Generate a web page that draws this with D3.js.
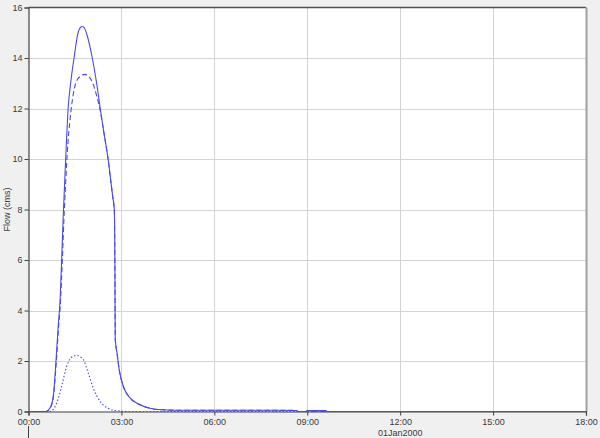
<!DOCTYPE html>
<html><head><meta charset="utf-8">
<script src="https://cdn.jsdelivr.net/npm/d3@7"></script>
<style>
html,body{margin:0;padding:0;background:#f0f0f0;}
svg{display:block;}
text{font-family:"Liberation Sans",Arial,sans-serif;}
</style></head>
<body>
<svg id="c" width="600" height="438"></svg>
<script>
// Time in hours since 00:00 01Jan2000, flow in cms
const totalHours = [0,0.56,0.69,0.8,0.89,0.96,1.02,1.07,1.12,1.2,1.28,1.37,1.47,1.6,1.67,1.74,1.81,1.88,2.06,2.2,2.31,2.44,2.57,2.65,2.72,2.77,2.79,2.8,2.86,2.93,3.06,3.27,3.6,3.92,4.3,5,6,7,8,8.65,8.7,8.95,9.0,9.6,9.65,18];
const totalFlow  = [0,0,0.13,0.6,2.05,3.4,4.4,6.0,7.7,10.0,12.0,13.1,14.0,15.0,15.2,15.25,15.18,14.95,14.0,13.0,12.05,11.0,10.0,9.2,8.5,8.0,5.75,2.9,2.3,1.65,1.0,0.55,0.27,0.13,0.07,0.05,0.05,0.05,0.05,0.04,0,0,0.04,0.04,0,0];
const dashHours = [0,0.56,0.69,0.8,0.9,0.97,1.03,1.09,1.14,1.2,1.27,1.34,1.45,1.61,1.82,2.04,2.2,2.31,2.44,2.57,2.65,2.72,2.77,2.79,2.8,2.86,2.93,3.06,3.27,3.6,3.92,4.3,5,6,7,8,8.65,8.7,18];
const dashFlow  = [0,0,0.12,0.55,2.0,3.3,4.3,5.9,7.5,9.05,10.6,11.55,12.6,13.2,13.35,13.1,12.5,11.95,11.0,10.0,9.2,8.5,8.0,5.75,2.9,2.3,1.65,1.0,0.55,0.27,0.13,0.07,0.05,0.05,0.05,0.05,0.04,0,0];
const dotHours = [0,0.69,0.91,1.07,1.23,1.39,1.55,1.77,1.93,2.09,2.31,2.57,2.85,3.27,18];
const dotFlow  = [0,0,0.33,1.0,1.78,2.15,2.22,2.05,1.52,0.93,0.4,0.13,0.03,0,0];
const yTicks = [0,2,4,6,8,10,12,14,16];
const xTicks = [0,3,6,9,12,15,18];
const xTickLabels = ["00:00","03:00","06:00","09:00","12:00","15:00","18:00"];
const dateLabel = "01Jan2000";
const yLabel = "Flow (cms)";

const svg = d3.select("#c");
const L=28.5, R=586, T=7.5, B=411.5;
const x = d3.scaleLinear().domain([0,18]).range([L,R]);
const y = d3.scaleLinear().domain([0,16]).range([B,T]);

svg.append("rect").attr("x",L).attr("y",T).attr("width",R-L).attr("height",B-T).attr("fill","#ffffff");

// grid
svg.append("g").selectAll("line").data(yTicks.filter(d=>d>0&&d<16)).join("line")
  .attr("x1",L).attr("x2",R).attr("y1",d=>Math.round(y(d))+0.5).attr("y2",d=>Math.round(y(d))+0.5)
  .attr("stroke","#d3d3d3").attr("stroke-width",1);
svg.append("g").selectAll("line").data(xTicks.filter(d=>d>0&&d<18)).join("line")
  .attr("y1",T).attr("y2",B).attr("x1",d=>Math.round(x(d))+0.5).attr("x2",d=>Math.round(x(d))+0.5)
  .attr("stroke","#d3d3d3").attr("stroke-width",1);

// borders
svg.append("line").attr("x1",L).attr("x2",R).attr("y1",T).attr("y2",T).attr("stroke","#505050").attr("stroke-width",1.5);
svg.append("line").attr("x1",R+0.5).attr("x2",R+0.5).attr("y1",T).attr("y2",B).attr("stroke","#a0a0a0").attr("stroke-width",2);

// axes
const yAxis = d3.axisLeft(y).tickValues(yTicks).tickSize(4).tickPadding(2).tickFormat(d3.format("d"));
const gy = svg.append("g").attr("transform",`translate(${L},0)`).call(yAxis);
const xAxis = d3.axisBottom(x).tickValues(xTicks).tickSize(4).tickPadding(3).tickFormat((d,i)=>xTickLabels[i]);
const gx = svg.append("g").attr("transform",`translate(0,${B})`).call(xAxis);
[gy,gx].forEach(g=>{
  g.select(".domain").attr("stroke","#404040").attr("stroke-width",1.2);
  g.selectAll(".tick line").attr("stroke","#404040");
  g.selectAll(".tick text").attr("fill","#3a3a3a").style("font-size","9px");
});

svg.append("text").attr("x",x(12)).attr("y",436).attr("text-anchor","middle")
  .attr("fill","#3a3a3a").style("font-size","9px").text(dateLabel);
svg.append("line").attr("x1",L).attr("x2",L).attr("y1",426).attr("y2",438).attr("stroke","#404040").attr("stroke-width",1);
svg.append("text").attr("transform",`translate(10,${(T+B)/2}) rotate(-90)`).attr("text-anchor","middle")
  .attr("fill","#3a3a3a").style("font-size","9px").text(yLabel);

// lines
const line = d3.line().x(d=>x(d[0])).y(d=>y(d[1])).curve(d3.curveMonotoneX);
const col = "#4a4ae0";
svg.append("clipPath").attr("id","pc").append("rect").attr("x",L).attr("y",T-2).attr("width",R-L).attr("height",B-T+3);
svg.append("path").datum(dotHours.map((h,i)=>[h,dotFlow[i]])).attr("d",line)
  .attr("fill","none").attr("stroke",col).attr("stroke-width",1.1).attr("stroke-dasharray","1.5,2").attr("clip-path","url(#pc)");
svg.append("path").datum(dashHours.map((h,i)=>[h,dashFlow[i]])).attr("d",line)
  .attr("fill","none").attr("stroke",col).attr("stroke-width",1.1).attr("stroke-dasharray","5,3").attr("clip-path","url(#pc)");
svg.append("path").datum(totalHours.map((h,i)=>[h,totalFlow[i]])).attr("d",line)
  .attr("fill","none").attr("stroke",col).attr("stroke-width",1.1).attr("clip-path","url(#pc)");
</script>
</body></html>
